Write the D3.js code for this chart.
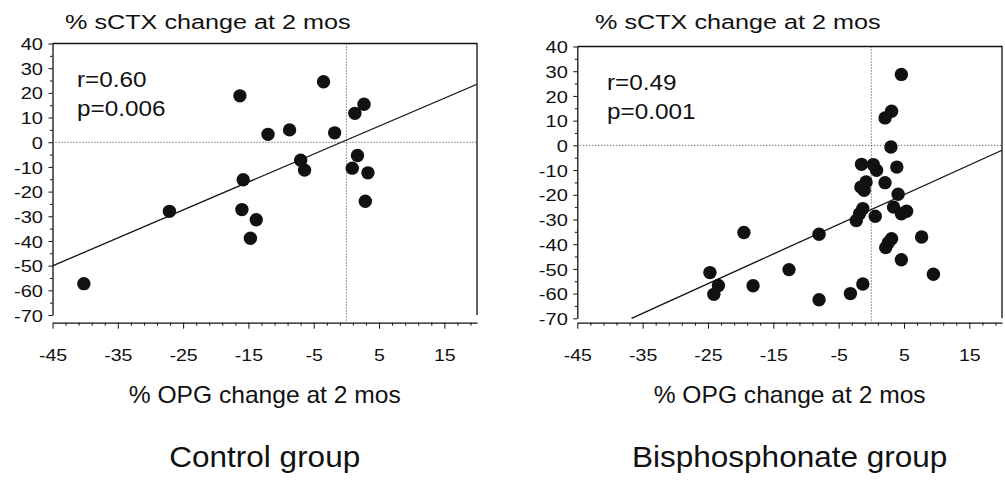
<!DOCTYPE html>
<html>
<head>
<meta charset="utf-8">
<script src="https://cdn.jsdelivr.net/npm/d3@7"></script>
<style>
  body { margin: 0; background: #fff; }
  svg { display: block; font-family: "Liberation Sans", Arial, sans-serif; }
</style>
</head>
<body>
<svg id="chart" width="1005" height="481"></svg>
<script>
// % OPG change (x) vs % sCTX change (y) at 2 months
const controlX = [-40.2, -27.1, -16.3, -15.8, -16.0, -13.8, -14.7, -12.0, -8.7, -7.0,
                  -6.4, -3.5, -1.8, 1.3, 2.7, 1.7, 0.9, 3.3, 2.9];
const controlY = [-57.3, -28.0, 18.8, -15.2, -27.3, -31.4, -38.9, 3.2, 5.0, -7.3,
                  -11.3, 24.5, 3.8, 11.7, 15.4, -5.4, -10.5, -12.4, -23.9];

const bisX = [-24.7, -23.4, -24.1, -19.5, -18.1, -12.6, -8.0, -8.0, -3.2, -1.3,
              -1.5, -0.8, -1.6, -1.1, -1.3, -1.8, -2.3, 0.3, 0.8, 0.6,
              2.1, 2.1, 3.1, 3.0, 4.6, 3.9, 4.1, 3.4, 4.6, 5.4,
              3.1, 2.6, 2.2, 4.6, 7.7, 9.5];
const bisY = [-51.5, -56.7, -60.3, -35.3, -56.8, -50.3, -36.0, -62.5, -60.0, -56.1,
              -7.7, -14.8, -16.9, -18.2, -25.6, -27.7, -30.4, -7.8, -10.1, -28.7,
              -15.1, 11.1, 13.8, -0.7, 28.7, -8.8, -19.8, -25.0, -27.7, -26.7,
              -37.8, -39.4, -41.4, -46.3, -37.1, -52.2];

// regression line end points
const controlFitX = [-45, 20];
const controlFitY = [-50.1, 23.5];
const bisFitX = [-36.7, 20];
const bisFitY = [-70, -2];

const controlStats = ["r=0.60", "p=0.006"];
const bisStats = ["r=0.49", "p=0.001"];

const xTicks = [-45, -35, -25, -15, -5, 5, 15];
const yTicks = [-70, -60, -50, -40, -30, -20, -10, 0, 10, 20, 30, 40];
const xDomain = [-45, 20];
const yDomain = [-70, 40];

const yTitle = "% sCTX change at 2 mos";
const xTitle = "% OPG change at 2 mos";

const panels = [
  {name: "Control group", xs: controlX, ys: controlY, fx: controlFitX, fy: controlFitY, stats: controlStats,
   x0: 52.5, x1: 477, yTop: 43.5, yBot: 315, axisY: 322.7, titleX: 65, statX: 77},
  {name: "Bisphosphonate group", xs: bisX, ys: bisY, fx: bisFitX, fy: bisFitY, stats: bisStats,
   x0: 577.3, x1: 1002, yTop: 46.5, yBot: 318.3, axisY: 322.7, titleX: 595, statX: 607}
];

const svg = d3.select("#chart");
const ink = "#111";
const plain = d => String(d);   // hyphen minus, not the unicode minus of d3.format

// text stretched a bit horizontally, like the original figure
function label(g, x, y, str, size, sx, anchor) {
  g.append("g")
    .attr("transform", "translate(" + x + "," + y + ") scale(" + sx + ",1)")
    .append("text")
    .attr("text-anchor", anchor || "start")
    .attr("font-size", size)
    .attr("fill", ink)
    .text(str);
}

panels.forEach(function(p) {
  let g = svg.append("g");

  let x = d3.scaleLinear().domain(xDomain).range([p.x0, p.x1]),
      y = d3.scaleLinear().domain(yDomain).range([p.yBot, p.yTop]);

  // frame top + right
  g.append("path")
    .attr("d", "M" + p.x0 + "," + p.yTop + "H" + p.x1 + "V" + p.yBot)
    .attr("fill", "none")
    .attr("stroke", ink)
    .attr("stroke-width", 1.3);

  // y axis
  let yAxis = g.append("g")
    .attr("transform", "translate(" + p.x0 + ",0)")
    .call(d3.axisLeft(y).tickValues(yTicks).tickFormat(plain).tickSize(4).tickSizeOuter(0));
  yAxis.attr("font-family", null);
  yAxis.select(".domain").attr("stroke", ink).attr("stroke-width", 1.3);
  yAxis.selectAll(".tick line").attr("stroke", ink);
  yAxis.selectAll(".tick text")
    .attr("font-size", 17)
    .attr("fill", ink)
    .attr("x", -9.5 / 1.18)
    .attr("dy", "0.36em")
    .attr("transform", "scale(1.18,1)");

  let yMinor = g.append("g")
    .attr("transform", "translate(" + p.x0 + ",0)")
    .call(d3.axisLeft(y).tickValues(yTicks.slice(0, -1).map(d => d + 5)).tickSize(2.5).tickFormat(""));
  yMinor.select(".domain").remove();
  yMinor.selectAll(".tick line").attr("stroke", ink);

  // x axis
  let xAxis = g.append("g")
    .attr("transform", "translate(0," + p.axisY + ")")
    .call(d3.axisBottom(x).tickValues(xTicks).tickFormat(plain).tickSize(6).tickSizeOuter(0));
  xAxis.attr("font-family", null);
  xAxis.select(".domain").attr("stroke", ink).attr("stroke-width", 1.3);
  xAxis.selectAll(".tick line").attr("stroke", ink);
  xAxis.selectAll(".tick text")
    .attr("font-size", 17)
    .attr("fill", ink)
    .attr("y", 38)
    .attr("dy", 0)
    .attr("transform", "scale(1.15,1)");

  let minorX = d3.range(xDomain[0], xDomain[1] + 0.01, 2).filter(v => (v + 45) % 10 !== 0);
  let xMinor = g.append("g")
    .attr("transform", "translate(0," + p.axisY + ")")
    .call(d3.axisBottom(x).tickValues(minorX).tickSize(3).tickFormat(""));
  xMinor.select(".domain").remove();
  xMinor.selectAll(".tick line").attr("stroke", ink);

  // reference lines at zero
  g.append("line")
    .attr("x1", p.x0).attr("x2", p.x1)
    .attr("y1", y(0)).attr("y2", y(0))
    .attr("stroke", "#333").attr("stroke-width", 1)
    .attr("stroke-dasharray", "1,2");
  g.append("line")
    .attr("x1", x(0)).attr("x2", x(0))
    .attr("y1", p.yTop).attr("y2", p.axisY)
    .attr("stroke", "#333").attr("stroke-width", 1)
    .attr("stroke-dasharray", "1,2");

  // regression line
  g.append("line")
    .attr("x1", x(p.fx[0])).attr("y1", y(p.fy[0]))
    .attr("x2", x(p.fx[1])).attr("y2", y(p.fy[1]))
    .attr("stroke", ink)
    .attr("stroke-width", 1.3);

  // points
  g.selectAll("circle.dot")
    .data(d3.zip(p.xs, p.ys))
    .enter().append("circle")
    .attr("class", "dot")
    .attr("cx", d => x(d[0]))
    .attr("cy", d => y(d[1]))
    .attr("r", 6.7)
    .attr("fill", ink);

  // texts
  let cx = (p.x0 + p.x1) / 2;
  label(g, p.titleX, 28.5, yTitle, 21, 1.2, "start");
  label(g, p.statX, y(0) - 55, p.stats[0], 21.5, 1.13, "start");
  label(g, p.statX, y(0) - 26, p.stats[1], 21.5, 1.13, "start");
  label(g, cx, 403, xTitle, 23, 1.07, "middle");
  label(g, cx, 467, p.name, 30, 1.05, "middle");
});
</script>
</body>
</html>
